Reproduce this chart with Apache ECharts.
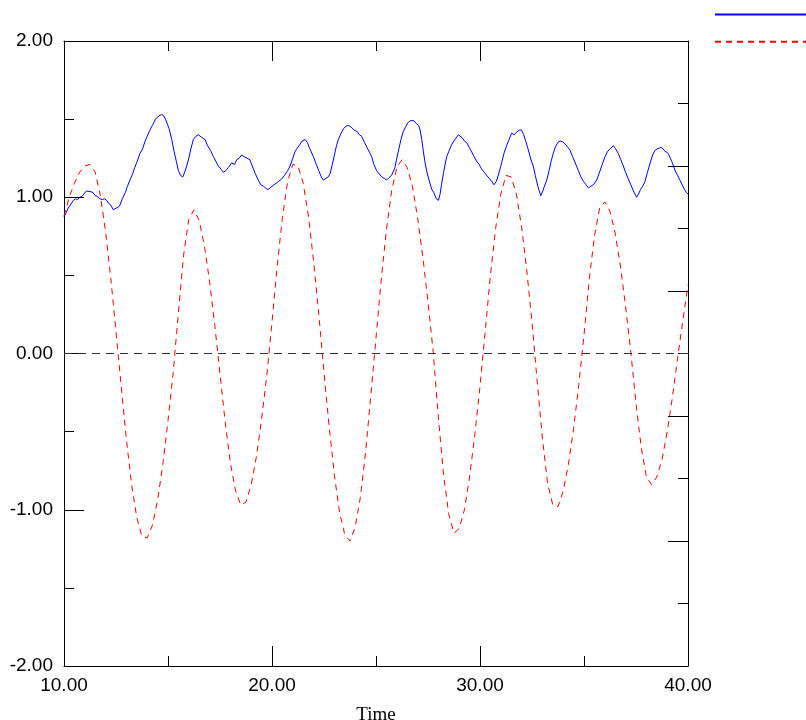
<!DOCTYPE html>
<html>
<head>
<meta charset="utf-8">
<script src="https://cdn.jsdelivr.net/npm/echarts@6/dist/echarts.min.js"></script>
<style>
html,body{margin:0;padding:0;background:#fff;overflow:hidden;}
#chart{width:806px;height:720px;}
</style>
</head>
<body>
<div id="chart"></div>
<script>
// Series 1 (blue, solid)
var blueTime = [10.00,10.10,10.20,10.30,10.45,10.55,10.65,10.77,10.90,11.00,11.10,11.17,11.30,11.40,11.50,11.60,11.73,11.85,11.95,12.05,12.15,12.25,12.37,12.50,12.60,12.69,12.80,12.95,13.05,13.17,13.30,13.40,13.52,13.65,13.78,13.90,14.00,14.13,14.25,14.40,14.55,14.70,14.80,14.88,14.94,15.05,15.18,15.28,15.40,15.50,15.60,15.71,15.80,15.90,16.00,16.10,16.22,16.34,16.46,16.60,16.78,16.90,17.05,17.18,17.30,17.42,17.55,17.66,17.78,17.90,18.06,18.20,18.30,18.42,18.54,18.66,18.80,18.94,19.05,19.20,19.34,19.46,19.60,19.72,19.82,19.95,20.10,20.20,20.30,20.45,20.60,20.75,20.87,21.00,21.10,21.19,21.30,21.45,21.59,21.70,21.82,21.99,22.10,22.25,22.37,22.47,22.58,22.70,22.79,22.90,23.00,23.10,23.19,23.32,23.45,23.55,23.67,23.80,23.95,24.10,24.20,24.31,24.45,24.60,24.70,24.79,24.90,25.03,25.15,25.28,25.40,25.51,25.62,25.75,25.91,26.00,26.10,26.20,26.31,26.42,26.55,26.65,26.72,26.82,26.95,27.05,27.12,27.20,27.28,27.36,27.45,27.55,27.68,27.78,27.90,28.00,28.08,28.15,28.25,28.32,28.40,28.52,28.65,28.80,28.96,29.05,29.15,29.25,29.36,29.48,29.60,29.72,29.84,29.96,30.08,30.20,30.32,30.45,30.57,30.67,30.78,30.90,31.04,31.15,31.28,31.40,31.52,31.65,31.78,31.90,32.00,32.10,32.22,32.35,32.45,32.56,32.66,32.78,32.92,33.02,33.12,33.21,33.32,33.42,33.52,33.62,33.74,33.85,33.97,34.10,34.22,34.33,34.45,34.58,34.73,34.85,34.98,35.10,35.21,35.32,35.45,35.61,35.72,35.85,36.01,36.12,36.25,36.41,36.52,36.65,36.77,36.89,37.00,37.12,37.25,37.38,37.53,37.62,37.72,37.82,37.93,38.05,38.18,38.30,38.41,38.52,38.63,38.73,38.85,38.95,39.05,39.13,39.25,39.38,39.50,39.61,39.72,39.83,39.93,40.00];
var blueValue = [0.875,0.90,0.93,0.95,0.98,0.99,0.985,1.00,1.01,1.03,1.04,1.05,1.035,1.03,1.01,1.005,0.99,0.985,0.99,0.98,0.96,0.95,0.92,0.93,0.935,0.95,0.99,1.03,1.07,1.11,1.15,1.19,1.23,1.28,1.31,1.36,1.39,1.43,1.46,1.50,1.52,1.53,1.52,1.50,1.49,1.44,1.37,1.30,1.23,1.17,1.14,1.13,1.16,1.20,1.25,1.31,1.37,1.39,1.40,1.385,1.37,1.33,1.30,1.26,1.23,1.20,1.18,1.16,1.17,1.19,1.22,1.21,1.24,1.25,1.27,1.26,1.25,1.24,1.20,1.15,1.11,1.08,1.07,1.055,1.05,1.065,1.08,1.09,1.10,1.115,1.14,1.17,1.20,1.25,1.29,1.31,1.33,1.36,1.37,1.35,1.31,1.26,1.22,1.17,1.13,1.11,1.12,1.13,1.15,1.21,1.27,1.33,1.37,1.41,1.44,1.455,1.46,1.45,1.43,1.42,1.40,1.39,1.35,1.31,1.285,1.26,1.21,1.17,1.15,1.13,1.12,1.11,1.125,1.14,1.19,1.25,1.31,1.37,1.42,1.45,1.48,1.49,1.50,1.49,1.47,1.46,1.43,1.37,1.29,1.22,1.16,1.11,1.05,1.03,0.99,0.98,1.02,1.08,1.16,1.21,1.26,1.30,1.34,1.37,1.40,1.39,1.38,1.36,1.35,1.32,1.29,1.26,1.23,1.21,1.18,1.16,1.14,1.12,1.10,1.08,1.10,1.15,1.22,1.28,1.33,1.37,1.41,1.40,1.42,1.43,1.43,1.40,1.35,1.29,1.24,1.20,1.14,1.07,1.01,1.04,1.08,1.11,1.17,1.23,1.28,1.32,1.35,1.36,1.355,1.34,1.32,1.30,1.26,1.22,1.17,1.13,1.10,1.08,1.06,1.07,1.08,1.11,1.15,1.20,1.26,1.29,1.31,1.33,1.31,1.28,1.24,1.20,1.16,1.12,1.08,1.04,1.00,1.02,1.05,1.07,1.10,1.16,1.22,1.27,1.30,1.31,1.315,1.32,1.30,1.29,1.28,1.27,1.22,1.17,1.14,1.11,1.08,1.05,1.03,1.02];

// Series 2 (red, dashed)
var redTime = [10.00,10.25,10.50,10.75,11.00,11.25,11.50,11.75,12.00,12.25,12.50,12.75,13.00,13.25,13.50,13.75,14.00,14.25,14.50,14.75,15.00,15.25,15.50,15.75,16.00,16.25,16.50,16.75,17.00,17.25,17.50,17.75,18.00,18.25,18.50,18.75,19.00,19.25,19.50,19.75,20.00,20.25,20.50,20.75,21.00,21.25,21.50,21.75,22.00,22.25,22.50,22.75,23.00,23.25,23.50,23.75,24.00,24.25,24.50,24.75,25.00,25.25,25.50,25.75,26.00,26.25,26.50,26.75,27.00,27.25,27.50,27.75,28.00,28.25,28.50,28.75,29.00,29.25,29.50,29.75,30.00,30.25,30.50,30.75,31.00,31.25,31.50,31.75,32.00,32.25,32.50,32.75,33.00,33.25,33.50,33.75,34.00,34.25,34.50,34.75,35.00,35.25,35.50,35.75,36.00,36.25,36.50,36.75,37.00,37.25,37.50,37.75,38.00,38.25,38.50,38.75,39.00,39.25,39.50,39.75,40.00];
var redValue = [0.88,1.00,1.09,1.16,1.20,1.21,1.16,1.01,0.78,0.48,0.14,-0.21,-0.55,-0.84,-1.05,-1.17,-1.18,-1.10,-0.94,-0.71,-0.43,-0.12,0.26,0.63,0.86,0.92,0.85,0.69,0.46,0.18,-0.13,-0.44,-0.70,-0.88,-0.97,-0.95,-0.84,-0.66,-0.42,-0.14,0.20,0.56,0.87,1.10,1.21,1.20,1.09,0.88,0.59,0.25,-0.12,-0.47,-0.78,-1.02,-1.16,-1.20,-1.11,-0.92,-0.63,-0.27,0.10,0.47,0.79,1.04,1.19,1.24,1.19,1.07,0.87,0.62,0.33,0.01,-0.41,-0.78,-1.03,-1.15,-1.12,-1.00,-0.79,-0.52,-0.21,0.14,0.50,0.80,1.02,1.14,1.13,1.02,0.81,0.53,0.20,-0.18,-0.54,-0.83,-0.97,-0.98,-0.88,-0.71,-0.48,-0.20,0.12,0.47,0.75,0.93,0.97,0.91,0.77,0.56,0.30,0.01,-0.32,-0.60,-0.79,-0.84,-0.79,-0.68,-0.50,-0.28,-0.03,0.21,0.44];

var seriesNames = ['Series 1', 'Series 2'];
var xTicks = [10, 20, 30, 40];
var yTicks = [-2, -1, 0, 1, 2];
var zeroLine = 0;

function pairs(t, v) { return t.map(function (x, i) { return [x, v[i]]; }); }

var font = "'Liberation Sans', Arial, sans-serif";
function tickCommon() {
  return {
    axisLine: { show: true, onZero: false, lineStyle: { color: '#000', width: 1 } },
    axisTick: { show: true, inside: true, length: 20, lineStyle: { color: '#000', width: 1 } },
    minorTick: { show: true, splitNumber: 2, length: 10, lineStyle: { color: '#000', width: 1 } },
    splitLine: { show: false },
    minorSplitLine: { show: false }
  };
}

var chart = echarts.init(document.getElementById('chart'), null, { renderer: 'canvas', width: 806, height: 720 });
chart.setOption({
  animation: false,
  backgroundColor: '#fff',
  grid: { left: 64, right: 118, top: 41, bottom: 54, containLabel: false, outerBoundsMode: 'none' },
  legend: {
    data: seriesNames,
    orient: 'vertical',
    left: 714,
    top: 9,
    padding: 0,
    itemWidth: 92,
    itemHeight: 14,
    itemGap: 16,
    itemStyle: { opacity: 0 },
    textStyle: { fontFamily: font, fontSize: 10, color: '#000' }
  },
  xAxis: [
    Object.assign({
      type: 'value', position: 'bottom', min: xTicks[0], max: xTicks[xTicks.length - 1], interval: 10,
      name: 'Time', nameLocation: 'middle', nameGap: 40,
      nameTextStyle: { fontFamily: "'Liberation Serif', 'Times New Roman', serif", fontSize: 19, color: '#000', verticalAlign: 'top' },
      axisLabel: { show: true, margin: 10, fontFamily: font, fontSize: 19, color: '#000', formatter: function (v) { return v.toFixed(2); } }
    }, tickCommon()),
    Object.assign({
      type: 'value', position: 'top', min: xTicks[0], max: xTicks[xTicks.length - 1], interval: 10,
      axisLabel: { show: false }
    }, tickCommon())
  ],
  yAxis: [
    Object.assign({
      type: 'value', position: 'left', min: yTicks[0], max: yTicks[yTicks.length - 1], interval: 1,
      axisLabel: { show: true, margin: 11, fontFamily: font, fontSize: 19, color: '#000', formatter: function (v) { return v.toFixed(2); } }
    }, tickCommon()),
    Object.assign({
      type: 'value', position: 'right', min: 0, max: 5, interval: 1,
      axisLabel: { show: false }
    }, tickCommon())
  ],
  series: [
    {
      name: seriesNames[0], type: 'line', xAxisIndex: 0, yAxisIndex: 0,
      data: pairs(blueTime, blueValue),
      symbol: 'none', showSymbol: false,
      lineStyle: { color: '#0000ff', width: 1 },
      itemStyle: { color: '#0000ff' },
      z: 3,
      markLine: {
        silent: true, symbol: 'none', label: { show: false },
        lineStyle: { color: '#333', width: 1, type: [8, 6] },
        data: [{ yAxis: zeroLine }]
      }
    },
    {
      name: seriesNames[1], type: 'line', xAxisIndex: 0, yAxisIndex: 0,
      data: pairs(redTime, redValue),
      symbol: 'none', showSymbol: false,
      lineStyle: { color: '#ff0000', width: 1, type: [6, 5] },
      itemStyle: { color: '#ff0000' },
      z: 2
    }
  ]
});
</script>
</body>
</html>
